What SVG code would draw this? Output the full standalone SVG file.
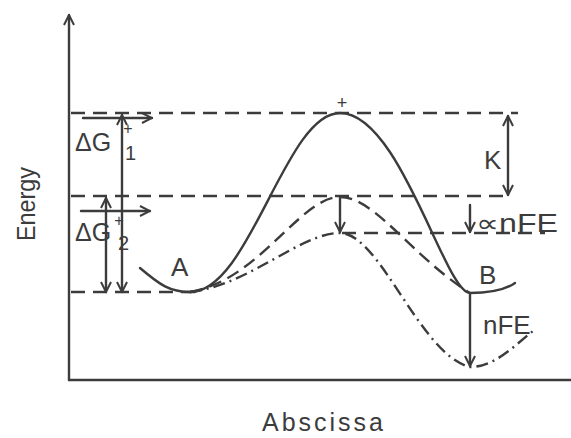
<svg xmlns="http://www.w3.org/2000/svg" width="571" height="438" viewBox="0 0 571 438">
<defs>
<style>
.ln{fill:none;stroke:#3c3c3c;stroke-width:2.4;stroke-linecap:round;stroke-linejoin:round}
.dash{stroke-dasharray:14 8;stroke-linecap:butt}
.dash2{stroke-dasharray:13 7;stroke-linecap:butt}
.dd{stroke-dasharray:12 5 2 5;stroke-linecap:butt}
.t{font-family:"Liberation Sans","DejaVu Sans",sans-serif;fill:#3c3c3c}
</style>
<marker id="ah" viewBox="0 0 12 12" refX="11" refY="6" markerWidth="12" markerHeight="12" markerUnits="userSpaceOnUse" orient="auto-start-reverse">
<path d="M1,1 L11,6 L1,11" fill="none" stroke="#3c3c3c" stroke-width="2"/>
</marker>
</defs>
<rect width="571" height="438" fill="#fff"/>
<g id="axes">
<path class="ln" d="M69,380 L69,15" marker-end="url(#ah)"/>
<path class="ln" d="M69,380 L571,380"/>
<text class="t" transform="translate(35,204) rotate(-90)" font-size="25" text-anchor="middle" textLength="74" lengthAdjust="spacingAndGlyphs">Energy</text>
<text class="t" x="262" y="431" font-size="25" textLength="121" lengthAdjust="spacing">Abscissa</text>
</g>
<g id="levels">
<path class="ln dash" d="M71,113 L518,113"/>
<path class="ln dash" d="M71,196 L505,196"/>
<path class="ln dash" d="M342,233 L545,233"/>
<path class="ln dash" d="M71,292 L200,292"/>
</g>
<g id="curves">
<path id="curve-solid" class="ln" d="M140,268 C160,285 170,292 190,292 C250,292 285,113 340,113 C400,113 445,293 470,293 C490,293 505,290 515,283"/>
<path id="curve-dashed" class="ln dash2" d="M190,292 C260,280 300,197 340,197 C375,197 410,255 470,293"/>
<path id="curve-dashdot" class="ln dd" d="M190,292 C250,285 300,233 340,233 C380,233 420,355 470,367 C495,367 515,345 533,331"/>
</g>
<g id="connectors">
<path class="ln" d="M122,115 L122,292" marker-start="url(#ah)" marker-end="url(#ah)"/>
<path class="ln" d="M83,118 L152,118" marker-end="url(#ah)"/>
<path class="ln" d="M106,198 L106,292" marker-start="url(#ah)" marker-end="url(#ah)"/>
<path class="ln" d="M81,211 L150,211" marker-end="url(#ah)"/>
<path class="ln" d="M340,197 L340,232" marker-end="url(#ah)"/>
<path class="ln" d="M508,116 L508,195" marker-start="url(#ah)" marker-end="url(#ah)"/>
<path class="ln" d="M470,205 L470,232" marker-end="url(#ah)"/>
<path class="ln" d="M470,294 L470,366" marker-end="url(#ah)"/>
</g>
<g id="labels">
<text class="t" x="75" y="151" font-size="25">ΔG</text>
<text class="t" x="128" y="134" font-size="16" text-anchor="middle">+</text>
<text class="t" x="125" y="160" font-size="20">1</text>
<text class="t" x="75" y="241" font-size="25">ΔG</text>
<text class="t" x="119" y="226" font-size="16" text-anchor="middle">+</text>
<text class="t" x="118" y="250" font-size="20">2</text>
<text class="t" x="342" y="109" font-size="18" text-anchor="middle">+</text>
<text class="t" x="171" y="276" font-size="26">A</text>
<text class="t" x="479" y="284" font-size="26">B</text>
<text class="t" x="484" y="169" font-size="26">K</text>
<text class="t" x="476" y="232" font-size="25" textLength="82" lengthAdjust="spacingAndGlyphs">∝nFE</text>
<text class="t" x="483" y="334" font-size="26">nFE</text>
</g>
</svg>
